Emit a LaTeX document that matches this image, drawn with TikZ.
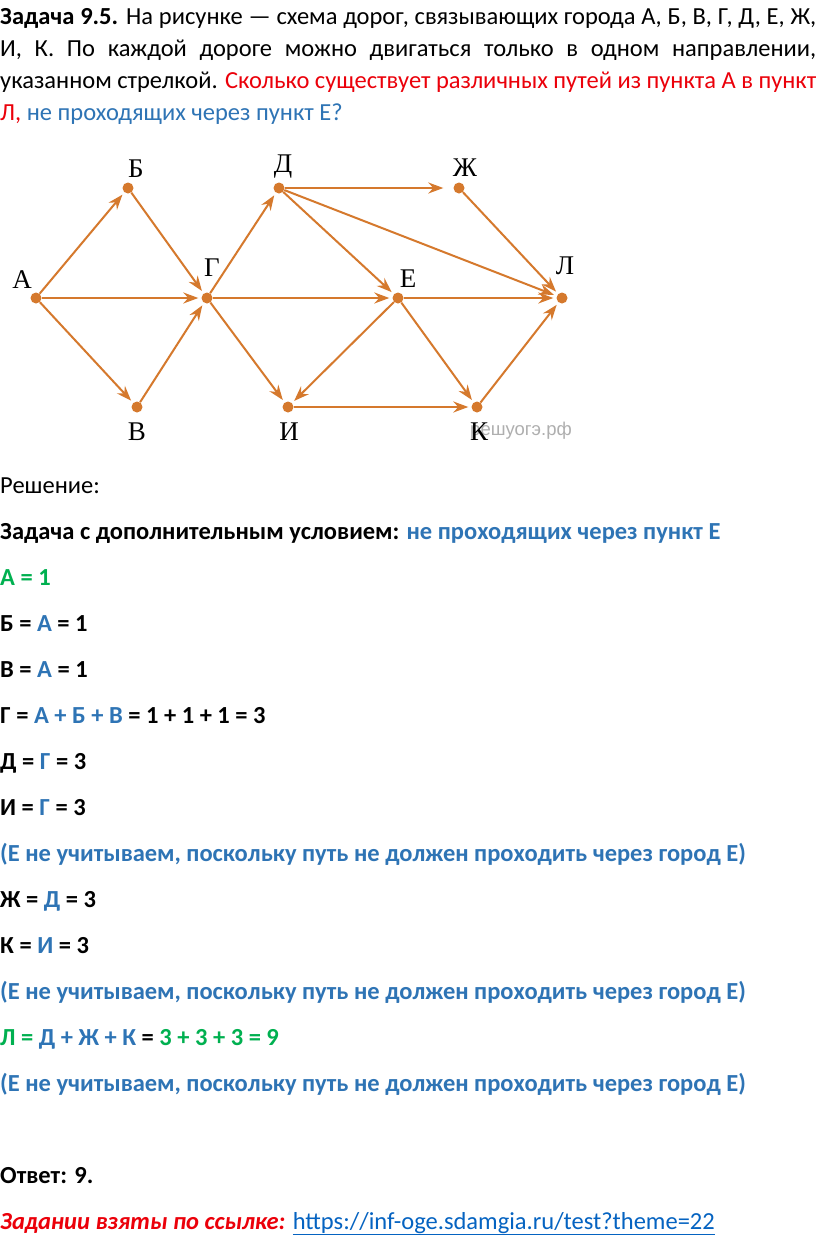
\documentclass[tikz,border=0pt]{standalone}
\usepackage{fontspec}
\setmainfont{Carlito}
\newfontfamily\lblfont{Liberation Serif}
\newfontfamily\wmfont{Liberation Sans}
\usetikzlibrary{arrows.meta}
\definecolor{road}{RGB}{213,121,45}
\definecolor{myblue}{RGB}{46,116,181}
\definecolor{mygreen}{RGB}{0,176,80}
\definecolor{myred}{RGB}{235,0,10}
\definecolor{linkblue}{RGB}{5,99,193}
\definecolor{wmgray}{RGB}{175,175,175}
\begin{document}
\begin{tikzpicture}[x=1pt,y=-1pt,
  dot/.style={circle,fill=road,inner sep=0pt,minimum size=11pt},
  lbl/.style={font=\lblfont\fontsize{27}{29}\selectfont,inner sep=0pt,text height=17.5pt,text depth=0pt},
  road/.style={draw=road,line width=2pt,-{Stealth[length=15pt,width=11pt,inset=5pt]},shorten >=3pt},
  txt/.style={anchor=base west,inner sep=0pt,font=\fontsize{24.5}{28}\selectfont}]
\useasboundingbox (0,0) rectangle (816,1256);
\fill[white] (0,0) rectangle (816,1256);

% ---- problem text ----
\node[txt] (p1) at (0,24) {\hbox to 816pt{\textbf{Задача 9.5.} На рисунке — схема дорог, связывающих города А, Б, В, Г, Д, Е, Ж,}};
\node[txt] (p2) at (0,56) {\hbox to 816pt{И, К. По каждой дороге можно двигаться только в одном направлении,}};
\node[txt] (p3) at (0,88) {\hbox to 816pt{указанном стрелкой. \textcolor{myred}{Сколько существует различных путей из пункта А в пункт}}};
\node[txt] (p4) at (0,120) {\textcolor{myred}{Л,} \textcolor{myblue}{не проходящих через пункт Е?}};

% ---- diagram ----
\node[dot] (A) at (36,298) {};
\node[dot] (B) at (128,188) {};
\node[dot] (V) at (137,407) {};
\node[dot] (G) at (207,298) {};
\node[dot] (D) at (279,188) {};
\node[dot] (Zh) at (459,188) {};
\node[dot] (E) at (398,298) {};
\node[dot] (L) at (562,298) {};
\node[dot] (I) at (288,407) {};
\node[dot] (K) at (477,407) {};

\node[anchor=center,inner sep=0pt,text=wmgray,font=\wmfont\fontsize{18.5}{20}\selectfont] (wm) at (521,431) {решуогэ.рф};

\node[lbl] (lA) at (22,280) {А};
\node[lbl] (lB) at (136,169) {Б};
\node[lbl] (lV) at (137,432) {В};
\node[lbl] (lG) at (212,268) {Г};
\node[lbl] (lD) at (283,164) {Д};
\node[lbl] (lZh) at (465,168) {Ж};
\node[lbl] (lE) at (408,279) {Е};
\node[lbl] (lL) at (565,266) {Л};
\node[lbl] (lI) at (289,432) {И};
\node[lbl] (lK) at (479,432) {К};

\draw[road] (A) -- (B);
\draw[road] (A) -- (G);
\draw[road] (A) -- (V);
\draw[road] (B) -- (G);
\draw[road] (V) -- (G);
\draw[road] (G) -- (D);
\draw[road] (G) -- (E);
\draw[road] (G) -- (I);
\draw[road,shorten >=10pt] (D) -- (Zh);
\draw[road] (D) -- (E);
\draw[road] (D) -- (L);
\draw[road] (Zh) -- (L);
\draw[road] (E) -- (L);
\draw[road] (E) -- (I);
\draw[road] (E) -- (K);
\draw[road] (I) -- (K);
\draw[road] (K) -- (L);

% ---- solution ----
\node[txt] (s1) at (0,493) {Решение:};
\node[txt] (s2) at (0,539) {\textbf{Задача с дополнительным условием: \textcolor{myblue}{не проходящих через пункт Е}}};
\node[txt] (s3) at (0,585) {\textbf{\textcolor{mygreen}{А = 1}}};
\node[txt] (s4) at (0,631) {\textbf{Б = \textcolor{myblue}{А} = 1}};
\node[txt] (s5) at (0,677) {\textbf{В = \textcolor{myblue}{А} = 1}};
\node[txt] (s6) at (0,723) {\textbf{Г = \textcolor{myblue}{А + Б + В} = 1 + 1 + 1 = 3}};
\node[txt] (s7) at (0,769) {\textbf{Д = \textcolor{myblue}{Г} = 3}};
\node[txt] (s8) at (0,815) {\textbf{И = \textcolor{myblue}{Г} = 3}};
\node[txt] (s9) at (0,861) {\textbf{\textcolor{myblue}{(Е не учитываем, поскольку путь не должен проходить через город Е)}}};
\node[txt] (s10) at (0,907) {\textbf{Ж = \textcolor{myblue}{Д} = 3}};
\node[txt] (s11) at (0,953) {\textbf{К = \textcolor{myblue}{И} = 3}};
\node[txt] (s12) at (0,999) {\textbf{\textcolor{myblue}{(Е не учитываем, поскольку путь не должен проходить через город Е)}}};
\node[txt] (s13) at (0,1045) {\textbf{\textcolor{mygreen}{Л =} \textcolor{myblue}{Д + Ж + К} = \textcolor{mygreen}{3 + 3 + 3 = 9}}};
\node[txt] (s14) at (0,1091) {\textbf{\textcolor{myblue}{(Е не учитываем, поскольку путь не должен проходить через город Е)}}};
\node[txt] (s15) at (0,1183) {\textbf{Ответ: 9.}};
\node[txt] (s16) at (0,1229) {\textcolor{myred}{\bfseries\itshape Задании взяты по ссылке:} \textcolor{linkblue}{\underline{https://inf-oge.sdamgia.ru/test?theme=22}}};
\end{tikzpicture}
\end{document}
